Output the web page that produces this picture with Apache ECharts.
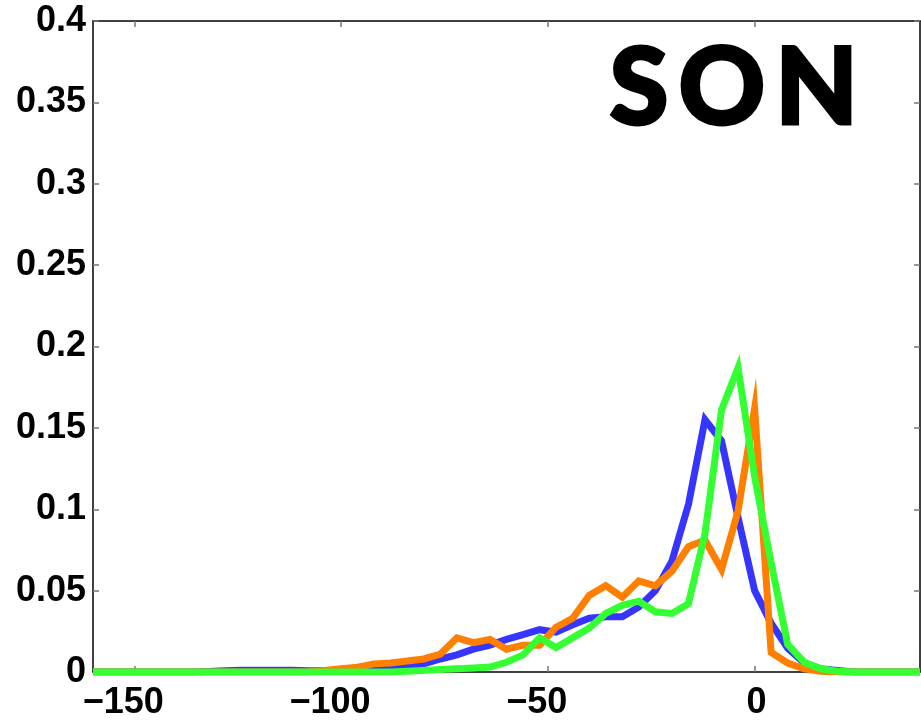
<!DOCTYPE html>
<html>
<head>
<meta charset="utf-8">
<script src="https://cdn.jsdelivr.net/npm/echarts@6/dist/echarts.min.js"></script>
<style>
  html, body { margin: 0; padding: 0; background: #fff; }
  #chart { width: 921px; height: 721px; }
</style>
</head>
<body>
<div id="chart"></div>
<script>
// Bin centres (every 4 units from -160 to 40)
const binCentres = [
  -160, -156, -152, -148, -144, -140, -136, -132, -128, -124,
  -120, -116, -112, -108, -104, -100, -96, -92, -88, -84,
  -80, -76, -72, -68, -64, -60, -56, -52, -48, -44,
  -40, -36, -32, -28, -24, -20, -16, -12, -8, -4,
  0, 4, 8, 12, 16, 20, 24, 28, 32, 36, 40
];

// Frequency per bin, one list per curve
const blueFreq = [
  0, 0, 0, 0, 0, 0, 0, 0.0003, 0.0008, 0.001,
  0.001, 0.001, 0.001, 0.0008, 0.0008, 0.001, 0.0015, 0.002, 0.0025, 0.003,
  0.005, 0.008, 0.0105, 0.014, 0.0165, 0.020, 0.023, 0.026, 0.0245, 0.029,
  0.033, 0.034, 0.034, 0.040, 0.050, 0.068, 0.103, 0.155, 0.142, 0.095,
  0.050, 0.030, 0.0147, 0.0055, 0.002, 0.001, 0, 0, 0, 0, 0
];
const orangeFreq = [
  0, 0, 0, 0, 0, 0, 0, 0, 0, 0,
  0, 0, 0, 0, 0.001, 0.002, 0.003, 0.005, 0.0055, 0.0068,
  0.008, 0.011, 0.021, 0.018, 0.020, 0.014, 0.0165, 0.0165, 0.0275, 0.033,
  0.047, 0.053, 0.046, 0.056, 0.053, 0.062, 0.077, 0.081, 0.063, 0.099,
  0.162, 0.012, 0.0055, 0.002, 0.0005, 0, 0, 0, 0, 0, 0
];
const greenFreq = [
  0, 0, 0, 0, 0, 0, 0, 0, 0, 0,
  0, 0, 0, 0, 0, 0, 0, 0, 0, 0.0005,
  0.001, 0.0015, 0.002, 0.0025, 0.003, 0.006, 0.0105, 0.021, 0.015, 0.021,
  0.027, 0.036, 0.041, 0.0435, 0.037, 0.036, 0.042, 0.085, 0.161, 0.187,
  0.12, 0.067, 0.017, 0.006, 0.002, 0.0005, 0, 0, 0, 0, 0
];

// Axis ticks
const xTicks = [-150, -100, -50, 0];
const yTicks = [0, 0.05, 0.1, 0.15, 0.2, 0.25, 0.3, 0.35, 0.4];
const panelLetters = ['S', 'O', 'N'];

const pairs = (ys) => binCentres.map((x, i) => [x, ys[i]]);

const labelFont = {
  fontFamily: '"Liberation Sans", Arial, sans-serif',
  fontWeight: 'bold',
  fontSize: 36,
  color: '#000'
};

// Heavy, spaced-out season label
const heavyLetter = {
  fontFamily: 'Lato, "Noto Sans", sans-serif',
  fontWeight: 900,
  fontSize: 107,
  color: '#000',
  textBorderColor: '#000',
  textBorderWidth: 3,
  padding: [0, 5, 0, 5]
};

const chart = echarts.init(document.getElementById('chart'), null, { renderer: 'canvas' });

chart.setOption({
  animation: false,
  backgroundColor: '#fff',
  title: {
    text: panelLetters.map((c) => '{L|' + c + '}').join(''),
    right: 65,
    top: 36,
    padding: 0,
    textStyle: {
      rich: { L: heavyLetter }
    }
  },
  grid: { left: 93, right: 1, top: 21, bottom: 47 },
  xAxis: [
    {
      type: 'value',
      position: 'bottom',
      min: -160,
      max: 40,
      splitLine: { show: false },
      axisLine: { show: true, onZero: false, lineStyle: { color: '#000', width: 1.5 } },
      axisTick: { show: true, inside: true, length: 6, customValues: xTicks, lineStyle: { color: '#777', width: 1.5 } },
      axisLabel: {
        show: true,
        customValues: xTicks,
        margin: 13,
        formatter: (v) => v < 0 ? '{n|\u2212' + Math.abs(v) + '}' : '{p|' + v + '}',
        rich: {
          n: Object.assign({ padding: [0, 22, 0, 0] }, labelFont),
          p: Object.assign({ padding: [0, 0, 0, 4] }, labelFont)
        }
      }
    },
    {
      type: 'value',
      position: 'top',
      min: -160,
      max: 40,
      splitLine: { show: false },
      axisLine: { show: true, onZero: false, lineStyle: { color: '#000', width: 1.5 } },
      axisTick: { show: true, inside: true, length: 6, customValues: xTicks, lineStyle: { color: '#777', width: 1.5 } },
      axisLabel: { show: false }
    }
  ],
  yAxis: [
    {
      type: 'value',
      position: 'left',
      min: 0,
      max: 0.4,
      interval: 0.05,
      splitLine: { show: false },
      axisLine: { show: true, onZero: false, lineStyle: { color: '#000', width: 1.5 } },
      axisTick: { show: true, inside: true, length: 6, lineStyle: { color: '#777', width: 1.5 } },
      axisLabel: Object.assign({
        margin: 7,
        formatter: (v) => String(+v.toFixed(2))
      }, labelFont)
    },
    {
      type: 'value',
      position: 'right',
      min: 0,
      max: 0.4,
      interval: 0.05,
      splitLine: { show: false },
      axisLine: { show: true, onZero: false, lineStyle: { color: '#000', width: 1.5 } },
      axisTick: { show: true, inside: true, length: 6, lineStyle: { color: '#777', width: 1.5 } },
      axisLabel: { show: false }
    }
  ],
  series: [
    {
      type: 'line',
      name: 'blue',
      data: pairs(blueFreq),
      showSymbol: false,
      lineStyle: { color: '#3535ff', width: 7, join: 'miter' },
      z: 2
    },
    {
      type: 'line',
      name: 'orange',
      data: pairs(orangeFreq),
      showSymbol: false,
      lineStyle: { color: '#ff7f00', width: 7, join: 'miter' },
      z: 3
    },
    {
      type: 'line',
      name: 'green',
      data: pairs(greenFreq),
      showSymbol: false,
      lineStyle: { color: '#33ff33', width: 7, join: 'miter' },
      z: 4
    }
  ]
});
</script>
</body>
</html>
